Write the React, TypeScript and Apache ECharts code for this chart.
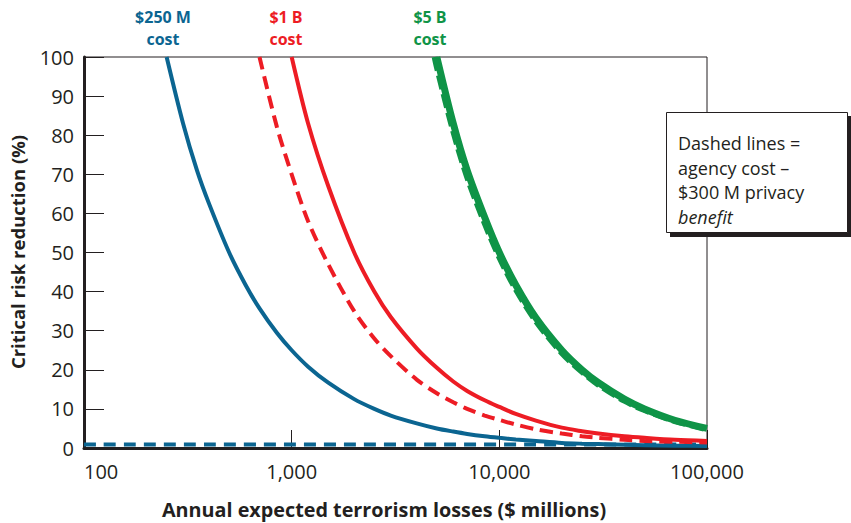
import React, { useEffect, useRef } from "react";
import * as echarts from "echarts";

const lossX = [250, 300, 350, 400, 500, 600, 700, 850, 1000, 1200, 1500, 2000, 2500, 3000, 4000, 5000, 6000, 7000, 8500, 10000, 12000, 15000, 20000, 25000, 30000, 40000, 50000, 70000, 100000];

const blueSolidY = [100, 83, 71, 62.5, 50, 41.7, 35.7, 29.4, 25, 20.8, 16.7, 12.5, 10, 8.3, 6.3, 5, 4.2, 3.6, 3, 2.6, 2.2, 1.8, 1.3, 1.1, 1, 0.8, 0.7, 0.6, 0.5];

const redSolidX = [1000, 1200, 1500, 2000, 2500, 3000, 4000, 5000, 6000, 7000, 8500, 10000, 12000, 15000, 20000, 25000, 30000, 40000, 50000, 70000, 100000];
const redSolidY = [100, 83, 67, 50, 40, 33.5, 25.5, 20.5, 17, 14.6, 12.2, 10.5, 8.7, 7, 5.2, 4.3, 3.7, 3, 2.6, 2.1, 1.8];

const redDashX = [700, 850, 1000, 1200, 1500, 2000, 2500, 3000, 4000, 5000, 6000, 7000, 8500, 10000, 12000, 15000, 20000, 25000, 30000, 40000, 50000, 70000, 100000];
const redDashY = [100, 82, 70, 58, 47, 35, 28, 23.5, 17.5, 14, 11.7, 10, 8.3, 7.2, 6, 4.8, 3.7, 3, 2.6, 2.1, 1.8, 1.6, 1.4];

const greenSolidX = [5000, 6000, 7000, 8500, 10000, 12000, 15000, 20000, 25000, 30000, 40000, 50000, 70000, 100000];
const greenSolidY = [100, 83, 71, 59, 50, 41.7, 33.3, 25, 20, 16.7, 12.5, 10, 7.1, 5];

const greenDashX = [4880, 5000, 6000, 7000, 8500, 10000, 12000, 15000, 20000, 25000, 30000, 40000, 50000, 70000, 100000];
const greenDashY = [100, 97.5, 81, 69.3, 57.5, 48.8, 40.6, 32.5, 24.3, 19.5, 16.2, 12.1, 9.7, 6.9, 4.8];

const blueDashX = [100, 100000];
const blueDashY = [0.9, 0.9];

const yTicks = [0, 10, 20, 30, 40, 50, 60, 70, 80, 90, 100];
const xTicks = [100, 1000, 10000, 100000];

const noteLines = ["Dashed lines =", "agency cost \u2013", "$300 M privacy", "benefit"];

const BLUE = "#0b6591";
const RED = "#ed1c24";
const GREEN = "#0f9447";
const INK = "#231f20";
const FONT = "'Open Sans', 'Noto Sans', sans-serif";

const zip = (xs: number[], ys: number[]) => xs.map((x, i) => [x, ys[i]]);

export default function App() {
  const ref = useRef<HTMLDivElement>(null);
  useEffect(() => {
    if (!ref.current) return;
    const chart = echarts.init(ref.current, null, { renderer: "svg" });
    const line = (name: string, data: number[][], color: string, width: number, dash: any, z: number) => ({
      name,
      type: "line",
      data,
      smooth: 0.3,
      showSymbol: false,
      symbol: "none",
      z,
      lineStyle: { color, width, type: dash, cap: "butt" },
    });
    const label = (text: string, x: number, y: number, color: string) => ({
      type: "text", x, y, z: 10,
      style: { text, fill: color, font: `bold 16px ${FONT}`, align: "center", verticalAlign: "middle" },
    });
    const noteText = (text: string, i: number) => ({
      type: "text", x: 678, y: 143 + i * 24.5, z: 22,
      style: { text, fill: INK, font: `${i === 3 ? "italic " : ""}18px ${FONT}`, verticalAlign: "middle" },
    });
    chart.setOption({
      animation: false,
      textStyle: { fontFamily: FONT },
      grid: { left: 84, right: 144, top: 57, bottom: 75, show: true, borderColor: INK, borderWidth: 1 },
      xAxis: {
        type: "log",
        logBase: 10,
        min: xTicks[0],
        max: xTicks[xTicks.length - 1],
        axisLine: { show: true, lineStyle: { color: INK, width: 3 } },
        axisTick: { show: true, inside: true, length: 18, lineStyle: { color: INK, width: 1 } },
        splitLine: { show: false },
        minorTick: { show: false },
        axisLabel: {
          color: INK,
          fontSize: 20,
          fontFamily: FONT,
          margin: 13,
          alignMinLabel: "left",
          formatter: (v: number) => Math.round(v).toLocaleString("en-US"),
        },
      },
      yAxis: {
        type: "value",
        min: yTicks[0],
        max: yTicks[yTicks.length - 1],
        interval: 10,
        axisLine: { show: true, lineStyle: { color: INK, width: 3 } },
        axisTick: { show: true, inside: true, length: 20, lineStyle: { color: INK, width: 1 } },
        splitLine: { show: false },
        axisLabel: { color: INK, fontSize: 20, fontFamily: FONT, margin: 10 },
      },
      series: [
        line("$250 M cost", zip(lossX, blueSolidY), BLUE, 4, "solid", 3),
        line("$250 M dashed", zip(blueDashX, blueDashY), BLUE, 4, [12, 8], 2),
        line("$1 B cost", zip(redSolidX, redSolidY), RED, 4, "solid", 3),
        line("$1 B dashed", zip(redDashX, redDashY), RED, 4, [13, 7], 3),
        line("$5 B cost", zip(greenSolidX, greenSolidY), GREEN, 7, "solid", 3),
        line("$5 B dashed", zip(greenDashX, greenDashY), GREEN, 6, [14, 5], 4),
      ],
      graphic: [
        label("$250 M", 163, 17, BLUE),
        label("cost", 163, 39, BLUE),
        label("$1 B", 286, 17, RED),
        label("cost", 286, 39, RED),
        label("$5 B", 430, 17, GREEN),
        label("cost", 430, 39, GREEN),
        { type: "text", x: 17, y: 252, rotation: Math.PI / 2, z: 10, style: { text: "Critical risk reduction (%)", fill: INK, font: `bold 18.5px ${FONT}`, align: "center", verticalAlign: "middle" } },
        { type: "text", x: 384, y: 509, z: 10, style: { text: "Annual expected terrorism losses ($ millions)", fill: INK, font: `bold 19.8px ${FONT}`, align: "center", verticalAlign: "middle" } },
        { type: "rect", z: 20, shape: { x: 670, y: 116, width: 182, height: 121 }, style: { fill: INK } },
        { type: "rect", z: 21, shape: { x: 666.5, y: 112.5, width: 181, height: 120 }, style: { fill: "#ffffff", stroke: INK, lineWidth: 1 } },
        ...noteLines.map(noteText),
      ],
    });
    return () => chart.dispose();
  }, []);
  return <div ref={ref} style={{ position: "absolute", left: 0, top: 0, width: 851, height: 523 }} />;
}
